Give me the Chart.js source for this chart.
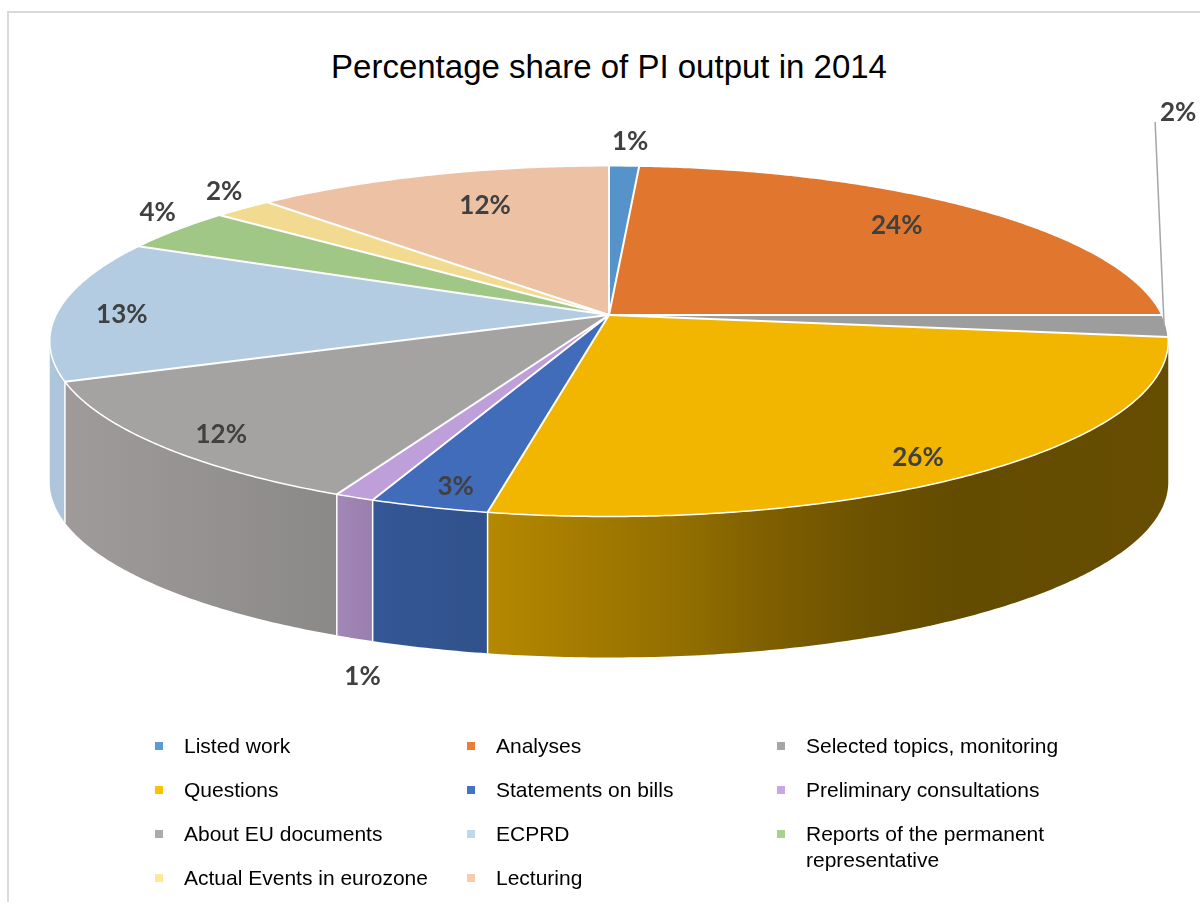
<!DOCTYPE html>
<html>
<head>
<meta charset="utf-8">
<script src="https://cdn.jsdelivr.net/npm/chart.js@4.4.1/dist/chart.umd.min.js"></script>
<style>
  html, body { margin: 0; padding: 0; background: #fff; width: 1200px; height: 902px; overflow: hidden; }
  #frame { position: absolute; left: 7px; top: 11px; width: 1300px; height: 1000px; border: 2px solid #d9d9d9; box-sizing: border-box; }
  #stage { position: absolute; left: 0; top: 0; width: 1200px; height: 902px; perspective: 3525px; perspective-origin: 609px 315px; }
  #pie { position: absolute; left: 0; top: 0; }
  #overlay { position: absolute; left: 0; top: 0; pointer-events: none; }
  #title { position: absolute; left: 0; top: 50px; width: 1218px; text-align: center; font: 33px/33px "Liberation Sans", Arial, sans-serif; color: #000; }
  #legend { position: absolute; left: 150px; top: 733px; display: grid; grid-template-columns: 312px 310px 300px; grid-auto-rows: 44px; font: 21px/26px "Liberation Sans", Arial, sans-serif; color: #000; }
  #legend .item { position: relative; padding-left: 34px; }
  #legend .item i { position: absolute; left: 5px; top: 9px; width: 8px; height: 8px; }
</style>
</head>
<body>
<div id="frame"></div>
<div id="title">Percentage share of PI output in 2014</div>
<div id="stage">
  <canvas id="pie" width="1120" height="1120"></canvas>
  <canvas id="overlay" width="1200" height="902"></canvas>
</div>
<div id="legend"></div>

<script>
(function(){
  const categories = [
    "Listed work", "Analyses", "Selected topics, monitoring",
    "Questions", "Statements on bills", "Preliminary consultations",
    "About EU documents", "ECPRD", "Reports of the permanent representative",
    "Actual Events in eurozone", "Lecturing"
  ];
  const shares = [1, 24, 2, 26, 3, 1, 12, 13, 4, 2, 12];
  const baseColors = [
    "#5B9BD5", "#ED7D31", "#A5A5A5",
    "#FFC000", "#4472C4", "#C9A7E4",
    "#AEAAAA", "#BDD7EE", "#A9D18E",
    "#FFE699", "#F8CBAD"
  ];

  // where each percentage sits: radius fraction on the top face, then a nudge
  const labelSpots = [
    { r: 1,     dx: 6,   dy: -25 },
    { r: 0.77,  dx: 0,   dy: -7 },
    { r: 1,     dx: 12,  dy: -214, leader: true },
    { r: 0.87,  dx: -7,  dy: 7 },
    { r: 0.9,   dx: 6,   dy: 1 },
    { r: 1,     dx: 8,   dy: 37, below: true },
    { r: 0.88,  dx: 2,   dy: 5 },
    { r: 0.885, dx: 0,   dy: 3 },
    { r: 1,     dx: -19, dy: -18 },
    { r: 1,     dx: -19, dy: -18 },
    { r: 0.73,  dx: 11,  dy: -5 }
  ];

  // 3D look: pie centre on screen, radius, tilt, perspective distance, wall height
  const view = { cx: 609, cy: 315, radius: 553, tilt: 71.94, persp: 3525, depth: 141 };

  // wall shading across the screen (lit from the left)
  const shadeX = [50, 340, 375, 490, 600, 700, 760, 820, 880, 960, 1170];
  const shadeF = [0.92, 0.80, 0.76, 0.71, 0.63, 0.56, 0.50, 0.46, 0.42, 0.39, 0.40];

  function shade(hex, f) {
    const n = parseInt(hex.slice(1), 16);
    const r = Math.round(((n >> 16) & 255) * f);
    const g = Math.round(((n >> 8) & 255) * f);
    const b = Math.round((n & 255) * f);
    return `rgb(${r},${g},${b})`;
  }

  const tiltRad = view.tilt * Math.PI / 180;
  function proj(a, r) {
    const ex = r * view.radius * Math.cos(a);
    const ey = r * view.radius * Math.sin(a);
    const s = view.persp / (view.persp - ey * Math.sin(tiltRad));
    return { x: view.cx + ex * s, y: view.cy + ey * Math.cos(tiltRad) * s };
  }

  // angle where the projected rim is widest (side silhouette)
  let sideAngle = 0, best = -1;
  for (let a = 0; a < 0.6; a += 0.001) {
    const x = proj(a, 1).x;
    if (x > best) { best = x; sideAngle = a; }
  }

  const total = shares.reduce((a, b) => a + b, 0);

  function drawOverlay(chart) {
    const arcs = chart.getDatasetMeta(0).data;
    if (!arcs.length) return;
    const first = arcs[0].getProps(["x", "y", "outerRadius"], true);

    // tilt the flat Chart.js pie into place
    const cv = chart.canvas;
    const k = view.radius / first.outerRadius;
    cv.style.left = (view.cx - first.x) + "px";
    cv.style.top = (view.cy - first.y) + "px";
    cv.style.transformOrigin = first.x + "px " + first.y + "px";
    cv.style.transform = `rotateX(${view.tilt}deg) scale(${k})`;

    const ov = document.getElementById("overlay");
    const ctx = ov.getContext("2d");
    ctx.clearRect(0, 0, ov.width, ov.height);

    const lo = sideAngle, hi = Math.PI - sideAngle;
    const props = arcs.map(a => a.getProps(["startAngle", "endAngle"], true));

    // side walls
    props.forEach((p, i) => {
      const s = Math.max(p.startAngle, lo);
      const e = Math.min(p.endAngle, hi);
      if (e <= s) return;
      const n = Math.max(2, Math.ceil((e - s) / 0.01));
      const pts = [];
      for (let j = 0; j <= n; j++) pts.push(proj(s + (e - s) * j / n, 1));
      const g = ctx.createLinearGradient(40, 0, 1180, 0);
      shadeX.forEach((x, j) => g.addColorStop((x - 40) / 1140, shade(baseColors[i], shadeF[j])));
      ctx.beginPath();
      ctx.moveTo(pts[0].x, pts[0].y);
      pts.forEach(pt => ctx.lineTo(pt.x, pt.y));
      for (let j = n; j >= 0; j--) ctx.lineTo(pts[j].x, pts[j].y + view.depth);
      ctx.closePath();
      ctx.fillStyle = g;
      ctx.fill();
    });

    ctx.strokeStyle = "#fff";
    ctx.lineWidth = 1.5;
    props.forEach((p, i) => {
      if (i === 0) return;
      const b = p.startAngle;
      if (b > lo && b < hi) {
        const t = proj(b, 1);
        ctx.beginPath();
        ctx.moveTo(t.x, t.y);
        ctx.lineTo(t.x, t.y + view.depth);
        ctx.stroke();
      }
    });

    // slice separators on the top face
    ctx.lineWidth = 2;
    props.forEach(p => {
      const t = proj(p.startAngle, 1);
      ctx.beginPath();
      ctx.moveTo(view.cx, view.cy);
      ctx.lineTo(t.x, t.y);
      ctx.stroke();
    });

    // rim
    ctx.lineWidth = 1.5;
    ctx.beginPath();
    for (let j = 0; j <= 720; j++) {
      const t = proj(j / 720 * Math.PI * 2, 1);
      if (j === 0) ctx.moveTo(t.x, t.y); else ctx.lineTo(t.x, t.y);
    }
    ctx.stroke();

    // percentage labels
    const fs = 26;
    ctx.font = `bold ${fs}px Lato, "Open Sans", sans-serif`;
    ctx.textAlign = "center";
    ctx.textBaseline = "alphabetic";
    props.forEach((p, i) => {
      const spot = labelSpots[i];
      const mid = (p.startAngle + p.endAngle) / 2;
      const anchor = proj(mid, spot.r);
      const x = anchor.x + spot.dx;
      const y = anchor.y + spot.dy + (spot.below ? view.depth : 0);
      if (spot.leader) {
        const rim = proj(mid, 1);
        ctx.strokeStyle = "#a6a6a6";
        ctx.lineWidth = 1.5;
        ctx.beginPath();
        ctx.moveTo(x - 23, y + 10);
        ctx.lineTo(rim.x - 2, rim.y);
        ctx.stroke();
      }
      ctx.fillStyle = "#404040";
      ctx.fillText(Math.round(shares[i] / total * 100) + "%", x, y + fs * 0.36);
    });
  }

  const pie3d = { id: "pie3d", afterDraw: drawOverlay };

  new Chart(document.getElementById("pie"), {
    type: "pie",
    data: {
      labels: categories,
      datasets: [{
        data: shares,
        backgroundColor: baseColors.map(c => shade(c, 0.95)),
        borderWidth: 0,
        hoverOffset: 0
      }]
    },
    options: {
      responsive: false,
      animation: false,
      devicePixelRatio: 2,
      events: [],
      layout: { padding: 0 },
      plugins: { legend: { display: false }, tooltip: { enabled: false } }
    },
    plugins: [pie3d]
  });

  // legend, three per row like the original
  const legend = document.getElementById("legend");
  categories.forEach((name, i) => {
    const item = document.createElement("div");
    item.className = "item";
    item.innerHTML = `<i style="background:${baseColors[i]}"></i>${name}`;
    legend.appendChild(item);
  });
})();
</script>
</body>
</html>
